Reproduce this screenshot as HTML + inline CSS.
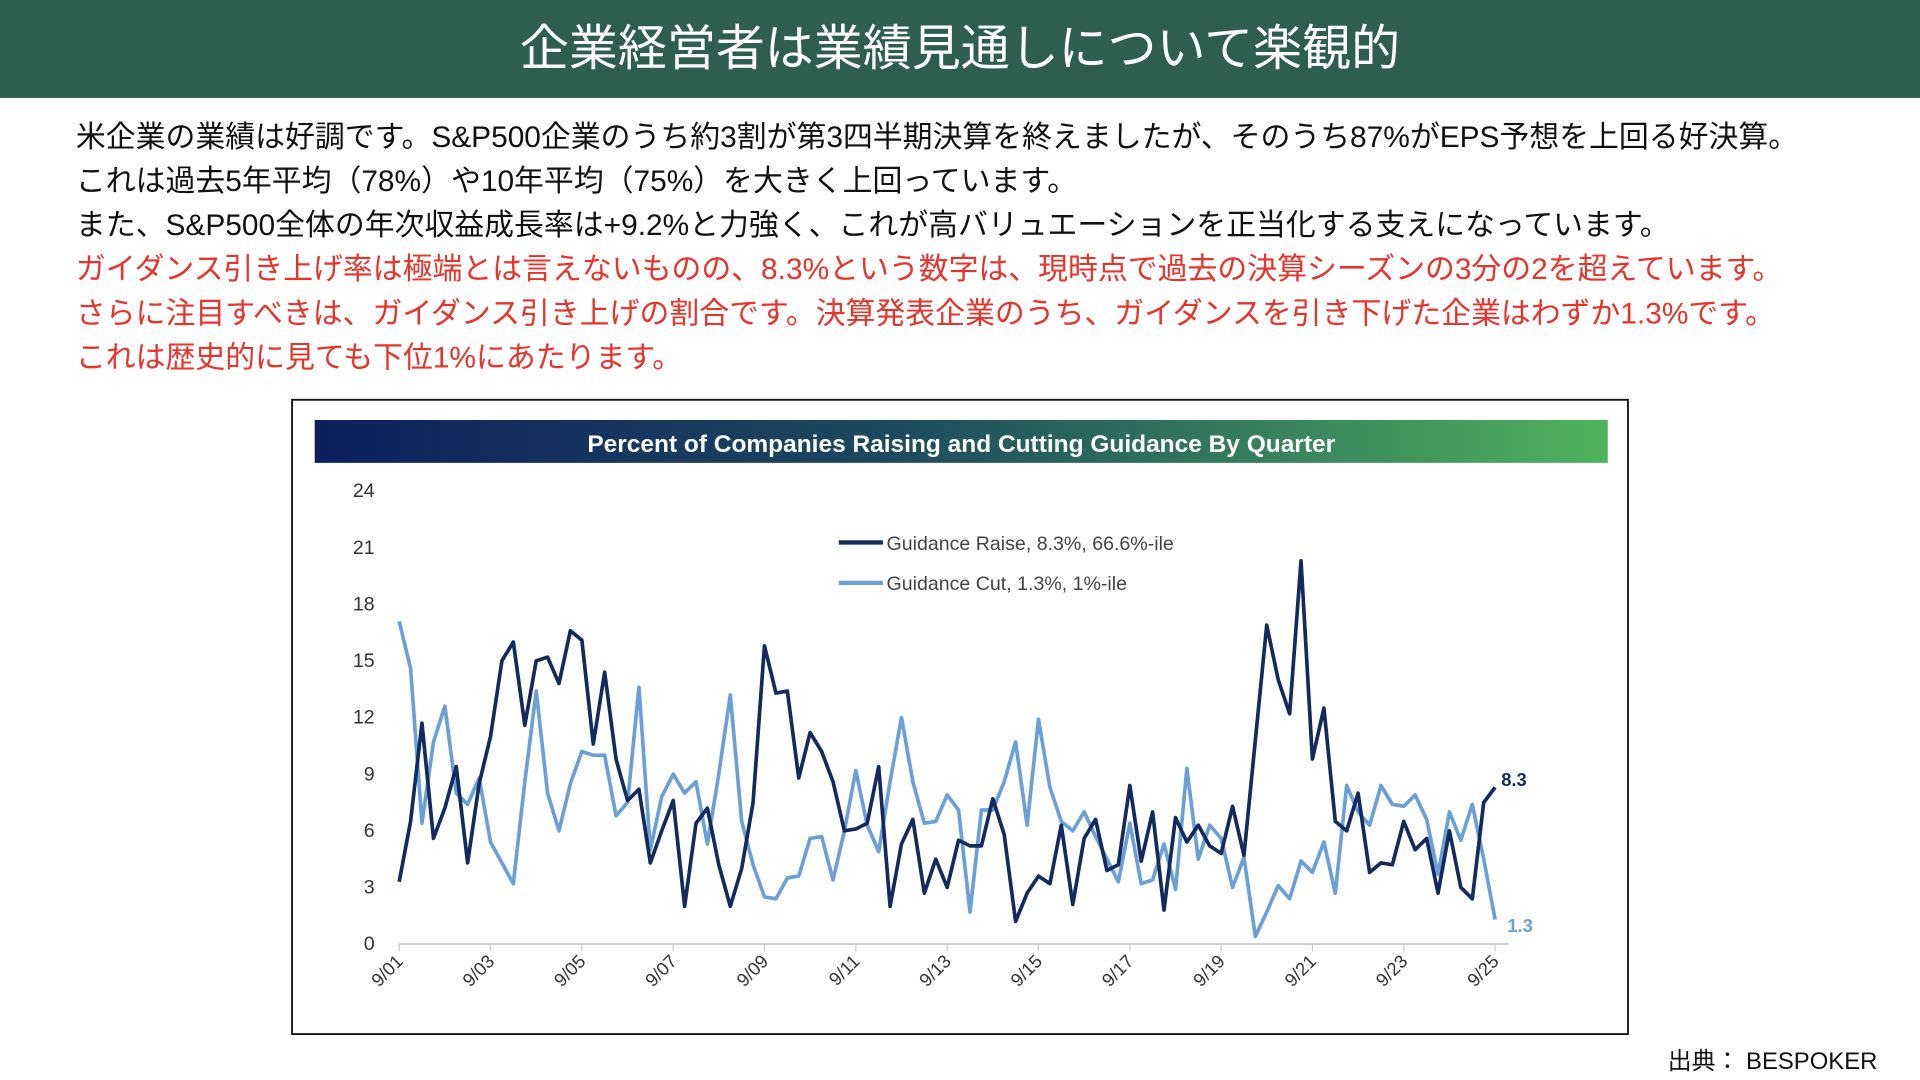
<!DOCTYPE html>
<html><head><meta charset="utf-8">
<style>
html,body{margin:0;padding:0;width:1920px;height:1080px;overflow:hidden;background:#fff}
#d{position:absolute;left:0;top:0;width:1568px;height:882px;transform:scale(1.22449);transform-origin:0 0;font-family:"Liberation Sans","Noto Sans CJK JP",sans-serif}
.hdr{position:absolute;left:0;top:0;width:1568px;height:80px;background:#2e5e4f;color:#fff;font-size:40px;text-align:center;line-height:80px}
.t{position:absolute;left:62px;font-size:24.4px;white-space:nowrap;color:#111;line-height:30px}
.r{color:#e8322a}
.src{position:absolute;left:1362px;top:850px;font-size:19.5px;color:#111;white-space:nowrap}
</style></head><body>
<div id="d">
<div class="hdr">企業経営者は業績見通しについて楽観的</div>
<div class="t" style="top:98px">米企業の業績は好調です。S&amp;P500企業のうち約3割が第3四半期決算を終えましたが、そのうち87%がEPS予想を上回る好決算。</div>
<div class="t" style="top:134px">これは過去5年平均（78%）や10年平均（75%）を大きく上回っています。</div>
<div class="t" style="top:170px">また、S&amp;P500全体の年次収益成長率は+9.2%と力強く、これが高バリュエーションを正当化する支えになっています。</div>
<div class="t r" style="top:206px">ガイダンス引き上げ率は極端とは言えないものの、8.3%という数字は、現時点で過去の決算シーズンの3分の2を超えています。</div>
<div class="t r" style="top:242px">さらに注目すべきは、ガイダンス引き上げの割合です。決算発表企業のうち、ガイダンスを引き下げた企業はわずか1.3%です。</div>
<div class="t r" style="top:278px">これは歴史的に見ても下位1%にあたります。</div>
<svg style="position:absolute;left:0;top:0" width="1568" height="882" font-family="Liberation Sans, sans-serif">
<defs><linearGradient id="g" x1="0" x2="1"><stop offset="0" stop-color="#0d1f5e"/><stop offset="0.45" stop-color="#1d4a5e"/><stop offset="1" stop-color="#4fb35c"/></linearGradient></defs>
<rect x="238.5" y="326.5" width="1091" height="518" fill="#fff" stroke="#111" stroke-width="1.5"/>
<rect x="257" y="343" width="1056" height="35" fill="url(#g)"/>
<text x="785" y="369" fill="#fff" font-size="20" font-weight="bold" text-anchor="middle">Percent of Companies Raising and Cutting Guidance By Quarter</text>
<g id="yl" font-size="16" fill="#333" text-anchor="end"></g>
<g id="xl" font-size="15" fill="#333"></g>
<line x1="326" y1="771" x2="1232" y2="771" stroke="#ccc" stroke-width="1.5"/>
<g id="tk" stroke="#ccc" stroke-width="1"></g>
<polyline id="lc" fill="none" stroke="#6a9fd8" stroke-width="3" stroke-linejoin="round"/>
<polyline id="dc" fill="none" stroke="#132a5e" stroke-width="3" stroke-linejoin="round"/>
<line x1="685" y1="443" x2="721" y2="443" stroke="#132a5e" stroke-width="3.5"/>
<text x="724" y="449" font-size="16" fill="#444">Guidance Raise, 8.3%, 66.6%-ile</text>
<line x1="685" y1="476" x2="721" y2="476" stroke="#6a9fd8" stroke-width="3.5"/>
<text x="724" y="482" font-size="16" fill="#444">Guidance Cut, 1.3%, 1%-ile</text>
<text x="1226" y="642" font-size="15" font-weight="bold" fill="#132a5e">8.3</text>
<text x="1231" y="761" font-size="15" font-weight="bold" fill="#6a9fd8">1.3</text>
</svg>
<div class="src">出典： BESPOKER</div>
</div>
<script>
var D=[3.3,6.5,11.7,5.6,7.2,9.4,4.3,8.5,11,15,16,11.6,15,15.2,13.8,16.6,16.1,10.6,14.4,9.8,7.6,8.2,4.3,6,7.6,2,6.4,7.2,4.2,2,4,7.5,15.8,13.3,13.4,8.8,11.2,10.2,8.6,6,6.1,6.4,9.4,2,5.3,6.6,2.7,4.5,3,5.5,5.2,5.2,7.7,5.8,1.2,2.7,3.6,3.2,6.3,2.1,5.6,6.6,3.9,4.2,8.4,4.4,7,1.8,6.7,5.4,6.3,5.2,4.8,7.3,4.7,10.8,16.9,14,12.2,20.3,9.8,12.5,6.5,6,8,3.8,4.3,4.2,6.5,5,5.6,2.7,6,3,2.4,7.5,8.3];
var L=[17.1,14.6,6.4,10.7,12.6,8,7.4,8.8,5.4,4.3,3.2,8.6,13.4,8,6,8.5,10.2,10,10,6.8,7.5,13.6,5,7.8,9,8,8.6,5.3,9,13.2,6.5,4.2,2.5,2.4,3.5,3.6,5.6,5.7,3.4,6,9.2,6.3,4.9,8.6,12,8.6,6.4,6.5,7.9,7.1,1.7,7.1,7.1,8.6,10.7,6.3,11.9,8.3,6.5,6,7,5.7,4.5,3.3,6.4,3.2,3.4,5.3,2.9,9.3,4.5,6.3,5.6,3,4.6,0.4,1.7,3.1,2.4,4.4,3.8,5.4,2.7,8.4,7,6.3,8.4,7.4,7.3,7.9,6.6,3.7,7,5.5,7.4,4.5,1.3];
function X(i){return 326+i*9.323}function Y(v){return 771-v*15.417}
function pts(a){return a.map(function(v,i){return X(i).toFixed(1)+","+Y(v).toFixed(1)}).join(" ")}
document.getElementById("dc").setAttribute("points",pts(D));
document.getElementById("lc").setAttribute("points",pts(L));
var ns="http://www.w3.org/2000/svg",yl=document.getElementById("yl"),xl=document.getElementById("xl"),tk=document.getElementById("tk");
for(var v=0;v<=24;v+=3){var t=document.createElementNS(ns,"text");t.setAttribute("x",306);t.setAttribute("y",Y(v)+5);t.textContent=v;yl.appendChild(t);}
for(var k=0;k<=12;k++){var x=X(k*8);var ln=document.createElementNS(ns,"line");ln.setAttribute("x1",x);ln.setAttribute("x2",x);ln.setAttribute("y1",771);ln.setAttribute("y2",777);tk.appendChild(ln);
var t=document.createElementNS(ns,"text");var yr=1+2*k;t.textContent="9/"+(yr<10?"0"+yr:yr);t.setAttribute("text-anchor","end");t.setAttribute("transform","translate("+(x+4)+",786) rotate(-45)");xl.appendChild(t);}
</script>
</body></html>
